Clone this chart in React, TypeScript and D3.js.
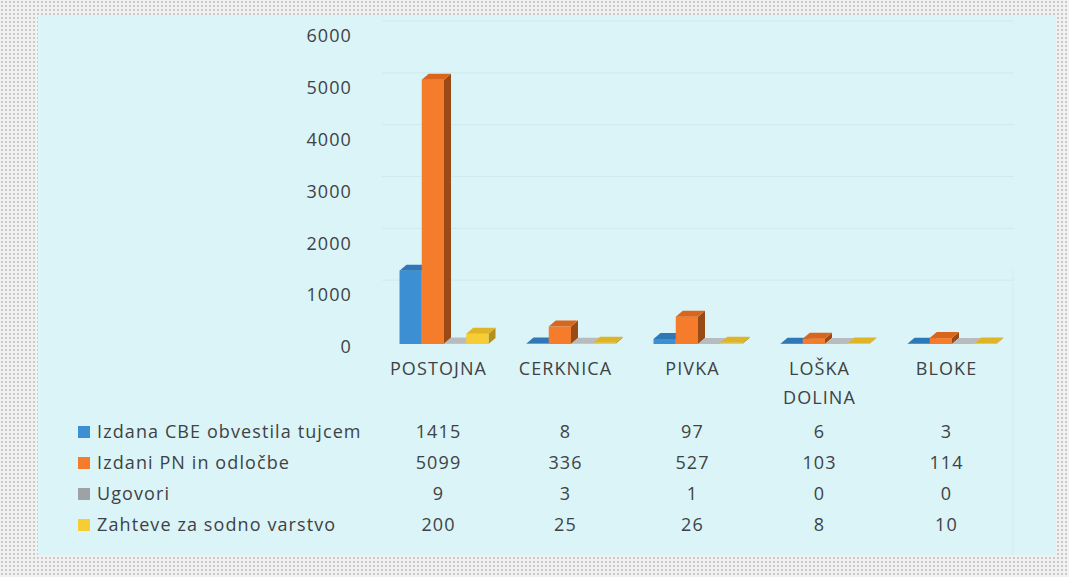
import React from 'react';
import * as d3 from 'd3';

const categories: string[][] = [['POSTOJNA'], ['CERKNICA'], ['PIVKA'], ['LOŠKA', 'DOLINA'], ['BLOKE']];
const seriesNames = ['Izdana CBE obvestila tujcem', 'Izdani PN in odločbe', 'Ugovori', 'Zahteve za sodno varstvo'];
const cbe = [1415, 8, 97, 6, 3];
const pn = [5099, 336, 527, 103, 114];
const ugovori = [9, 3, 1, 0, 0];
const zahteve = [200, 25, 26, 8, 10];
const yTicks = [0, 1000, 2000, 3000, 4000, 5000, 6000];

const seriesValues = [cbe, pn, ugovori, zahteve];
const fronts = ['#3d8fd3', '#f57c2b', '#9ea2a6', '#f7cd36'];
const sides = ['#2a6297', '#9a4a17', '#6d7074', '#b58f1c'];
const tops = ['#2f78b8', '#d9661c', '#b9bcbf', '#e0b427'];

const W = 1069;
const H = 577;
const FONT = "'Open Sans', 'DejaVu Sans', sans-serif";
const TEXT = '#3f4244';
const FS = 18;
const LS = 1.1;

export default function App() {
  const x = d3.scaleBand<number>().domain(categories.map((_, i) => i)).range([375, 1010]);
  const y = d3.scaleLinear().domain([0, 6000]).range([344, 33]);
  const inner = d3.scaleBand<number>().domain(seriesNames.map((_, i) => i)).range([0, 89]);
  const dx = 7;
  const dy = 6;
  const rowY = (r: number) => 432 + r * 31;
  const cx = (c: number) => (x(c) as number) + x.bandwidth() / 2;

  const bars: JSX.Element[] = [];
  categories.forEach((_, c) => {
    seriesValues.forEach((vals, s) => {
      const v = vals[c];
      const bx = cx(c) - 39 + (inner(s) as number);
      const w = inner.bandwidth();
      const y0 = y(0);
      const yv = y(v);
      const h = y0 - yv;
      bars.push(
        <g key={`b${c}-${s}`}>
          <polygon
            points={`${bx + w},${yv} ${bx + w + dx},${yv - dy} ${bx + w + dx},${y0 - dy} ${bx + w},${y0}`}
            fill={sides[s]}
          />
          {h > 0 && <rect x={bx} y={yv} width={w} height={h} fill={fronts[s]} />}
          <polygon
            points={`${bx},${yv} ${bx + dx},${yv - dy} ${bx + w + dx},${yv - dy} ${bx + w},${yv}`}
            fill={tops[s]}
          />
        </g>
      );
    });
  });

  const textProps = { fontFamily: FONT, fontSize: FS, fill: TEXT, letterSpacing: LS } as const;

  return (
    <div style={{ position: 'absolute', left: 0, top: 0, width: W, height: H }}>
      <svg width={W} height={H} viewBox={`0 0 ${W} ${H}`} style={{ display: 'block' }}>
        <defs>
          <pattern id="dots" width="4" height="4" patternUnits="userSpaceOnUse">
            <rect width="4" height="4" fill="#f1f1f1" />
            <circle cx="2" cy="2" r="0.9" fill="#b8b8b8" />
          </pattern>
        </defs>
        <rect width={W} height={H} fill="url(#dots)" />
        <rect x={38} y={15} width={1018} height={540} fill="#daf4f8" />
        {yTicks.slice(1).map((t) => (
          <line key={`g${t}`} x1={382} x2={1014} y1={y(t) - 12} y2={y(t) - 12} stroke="#d0eaee" strokeWidth={1} />
        ))}
        <line x1={1013} x2={1013} y1={270} y2={555} stroke="#d3ebef" strokeWidth={1} />
        {yTicks.map((t) => (
          <text key={`t${t}`} x={352} y={y(t) + 3} dy="0.35em" textAnchor="end" {...textProps}>
            {t}
          </text>
        ))}
        {bars}
        {categories.map((lines, c) => (
          <text key={`c${c}`} x={cx(c)} y={369} textAnchor="middle" {...textProps}>
            {lines.map((l, i) => (
              <tspan key={i} x={cx(c)} dy={i === 0 ? '0.35em' : 29}>
                {l}
              </tspan>
            ))}
          </text>
        ))}
        {seriesNames.map((name, r) => (
          <g key={`r${r}`}>
            <rect x={78} y={rowY(r) - 6} width={12} height={12} fill={fronts[r]} />
            <text x={97} y={rowY(r)} dy="0.35em" {...textProps}>
              {name}
            </text>
            {seriesValues[r].map((v, c) => (
              <text key={c} x={cx(c)} y={rowY(r)} dy="0.35em" textAnchor="middle" {...textProps}>
                {v}
              </text>
            ))}
          </g>
        ))}
      </svg>
    </div>
  );
}
